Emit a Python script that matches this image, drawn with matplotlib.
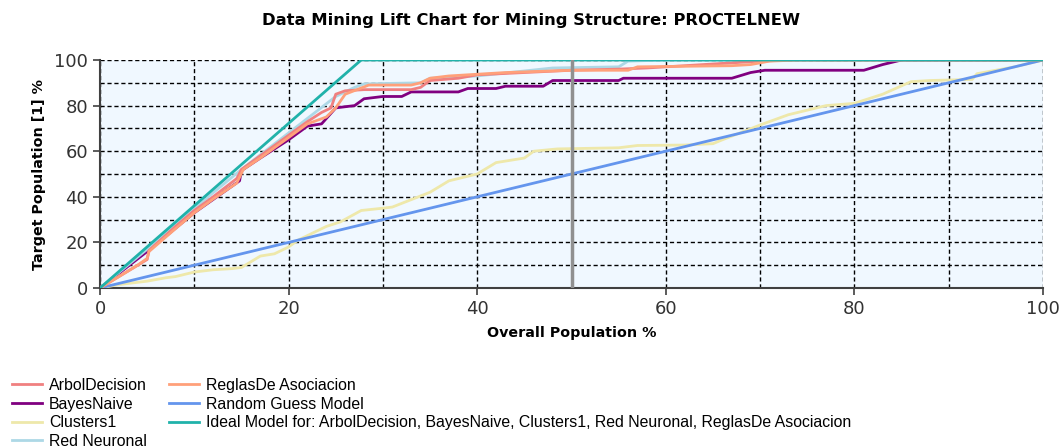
import matplotlib.pyplot as plt

# lift curves, x = overall population %, y = target population %
arbol_x = [0, 2, 4, 5, 5.2, 8, 10, 12, 14.5, 15, 17, 20, 22, 23.5, 24.5, 25, 26, 28, 33, 34, 35, 38, 40, 45, 50, 55, 58, 62, 66, 70, 73, 100]
arbol_y = [0, 5, 10, 12.5, 16.5, 27, 34, 40, 48, 52, 58, 67, 73, 77, 79, 85, 86.5, 87, 87, 88, 91, 92, 93.5, 94.5, 95.5, 96, 96.5, 97.5, 98.5, 99.5, 100, 100]

reglas_x = [0, 2, 4, 5, 5.2, 8, 10, 12, 14.5, 15.2, 17, 20, 22, 24, 25, 26, 28.5, 33, 34, 35, 37, 43, 50, 56, 57, 67, 69, 71, 74, 100]
reglas_y = [0, 5, 10, 13, 16, 26, 33, 39, 46, 52, 57, 66, 72, 75, 79, 85, 89, 89, 90, 92, 93, 94.5, 95.5, 95.5, 97, 97.5, 98, 99.5, 100, 100]

neuronal_x = [0, 5, 10, 15, 20, 25, 27, 28, 34, 35, 40, 48, 55, 56, 60, 100]
neuronal_y = [0, 17, 35, 52, 68, 84, 88, 89.5, 90, 92, 93, 96.5, 97, 99.5, 100, 100]

bayes_x = [0, 5, 10, 14.8, 15, 17, 20, 22, 23.5, 25, 26, 27, 28, 30, 32, 33, 34, 38, 39, 42, 43, 47, 48, 55, 55.5, 67, 69, 70.5, 81, 83, 84.5, 85, 100]
bayes_y = [0, 16, 33, 47, 51.5, 57, 65, 71, 72, 79, 79.5, 80, 83, 84, 84, 86, 86, 86, 87.5, 87.5, 88.5, 88.5, 91, 91, 92, 92, 94.5, 95.5, 95.5, 98, 99.5, 100, 100]

clusters_x = [0, 2, 4, 5, 7, 8, 10, 12, 14, 15, 17, 18.5, 20, 21, 24, 25.5, 27.7, 30, 31, 35, 37, 40, 42, 45, 46, 48.5, 55, 57, 62, 65, 66, 70, 73, 75, 77, 80, 83, 86, 88, 92.5, 93, 97, 100]
clusters_y = [0, 1.5, 2.5, 3, 4.5, 5, 7, 8, 8.5, 9, 14, 15, 18, 21, 27, 29, 34, 35, 35.5, 42, 47, 50, 55, 57, 60, 61, 61.5, 62.5, 62.7, 63.3, 65, 71.5, 76, 78, 80, 81, 85, 90.5, 91, 91.5, 94, 97, 100]

random_x = [0, 100]
random_y = [0, 100]

ideal_x = [0, 27.7, 100]
ideal_y = [0, 100, 100]

fig = plt.figure(figsize=(10.62, 4.48), dpi=100)
ax = fig.add_axes([100 / 1062, 160 / 448, 943 / 1062, 228 / 448])
ax.set_facecolor('#F0F8FF')

lw = 2
ax.plot(arbol_x, arbol_y, color='#F08080', lw=lw, label='ArbolDecision', zorder=4)
ax.plot(bayes_x, bayes_y, color='#800080', lw=lw, label='BayesNaive', zorder=3)
ax.plot(clusters_x, clusters_y, color='#EEE8AA', lw=lw, label='Clusters1', zorder=3)
ax.plot(neuronal_x, neuronal_y, color='#ADD8E6', lw=lw, label='Red Neuronal', zorder=3)
ax.plot(reglas_x, reglas_y, color='#FFA07A', lw=lw, label='ReglasDe Asociacion', zorder=5)
ax.plot(random_x, random_y, color='#6495ED', lw=lw, label='Random Guess Model', zorder=3)
ax.plot(ideal_x, ideal_y, color='#20B2AA', lw=lw,
        label='Ideal Model for: ArbolDecision, BayesNaive, Clusters1, Red Neuronal, ReglasDe Asociacion', zorder=6)

ax.axvline(50, color='#909090', lw=2.5, zorder=7)

ax.set_xlim(0, 100)
ax.set_ylim(0, 100)
ax.set_xticks(range(0, 101, 20))
ax.set_yticks(range(0, 101, 20))
ax.set_xticks(range(10, 101, 20), minor=True)
ax.set_yticks(range(10, 101, 20), minor=True)
ax.tick_params(which='major', length=5, width=1.2, color='#404040', labelsize=13, labelcolor='#333333')
ax.tick_params(which='minor', length=0)
ax.grid(which='both', color='black', linestyle=(0, (3, 2)), linewidth=1)
ax.set_axisbelow(True)
for s in ['top', 'right']:
    ax.spines[s].set_visible(False)
for s in ['left', 'bottom']:
    ax.spines[s].set_color('#404040')
    ax.spines[s].set_linewidth(1.5)

fig.text(531 / 1062, 1 - 20 / 448, 'Data Mining Lift Chart for Mining Structure: PROCTELNEW',
         ha='center', va='center', fontsize=11.8, fontweight='bold')
ax.set_xlabel('Overall Population %', fontsize=10.3, fontweight='bold', labelpad=6)
ax.set_ylabel('Target Population [1] %', fontsize=10.3, fontweight='bold', labelpad=6)

fig.legend(loc='upper left', bbox_to_anchor=(0.0, 1 - 366 / 448), ncol=2, frameon=False,
           prop={'family': ['Liberation Sans', 'DejaVu Sans'], 'size': 11.4},
           handlelength=1.9, handletextpad=0.45, columnspacing=1.4, labelspacing=0.23,
           borderaxespad=0.35)

fig.savefig('out.png', dpi=100)
